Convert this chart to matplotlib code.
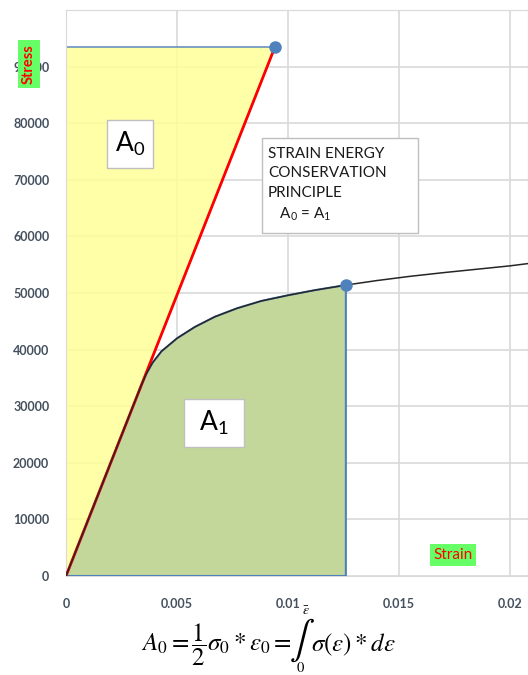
"""Strain energy conservation sketch: stress-strain curve with A0 / A1 areas."""

import matplotlib.pyplot as plt
import numpy as np
from matplotlib.patches import Rectangle

plt.rcParams["mathtext.fontset"] = "stix"
plt.rcParams["font.family"] = ["Lato", "DejaVu Sans"]

# stress-strain curve
strain = [0, 0.0034, 0.0036, 0.0039, 0.0043, 0.0050, 0.0058, 0.0067, 0.0077,
          0.0088, 0.0100, 0.0112, 0.0126, 0.0140, 0.0155, 0.0170, 0.0185,
          0.0200, 0.0208]
stress = [0, 33800, 35600, 37700, 39700, 42000, 44000, 45800, 47300,
          48600, 49600, 50500, 51400, 52200, 52950, 53600, 54200,
          54800, 55200]

# equivalent linear point and the true-strain end point
eps0, sig0 = 0.00941, 93500
eps_bar, sig_bar = 0.0126, 51400

xticks = [0, 0.005, 0.01, 0.015, 0.02]
xticklabels = ["0", "0.005", "0.01", "0.015", "0.02"]
yticks = list(range(0, 90001, 10000))

tick_color = "#44505e"
blue = "#4f81bd"
W, H = 528, 675


def px(x, y):
    # pixel position from the top-left corner -> figure fraction
    return x / W, 1 - y / H


def box(fig, x0, y0, x1, y1):
    # white label box given in pixels
    fig.patches.append(Rectangle(px(x0, y1), (x1 - x0) / W, (y1 - y0) / H,
                                 transform=fig.transFigure, fc="white",
                                 ec="#bfbfbf", lw=1, zorder=3))


if __name__ == "__main__":
    fig = plt.figure(figsize=(W / 100, H / 100), dpi=100)
    ax = fig.add_axes([66 / W, 1 - 576 / H, 462 / W, 566 / H])
    ax.set_xlim(0, 0.0208)
    ax.set_ylim(0, 100000)

    ax.grid(True, color="#d9d9d9", lw=1.2, zorder=0)
    ax.set_axisbelow(True)
    for s in ax.spines.values():
        s.set_color("#d9d9d9")

    # A0 triangle
    ax.fill([0, 0, eps0], [0, sig0, sig0], facecolor="#ffff99", alpha=0.85,
            edgecolor=blue, lw=1.2, zorder=2)
    ax.plot([0, eps0], [0, sig0], color="red", lw=2, zorder=4)
    ax.plot([eps0], [sig0], "o", color=blue, ms=8, zorder=6)

    # A1 area under the curve
    x = np.array(strain)
    y = np.array(stress)
    m = x <= eps_bar
    ax.fill(np.r_[x[m], eps_bar], np.r_[y[m], 0], facecolor="#c4d79b",
            edgecolor=blue, lw=1.5, zorder=3)
    ax.plot(x, y, color="#262626", lw=1.1, zorder=5)
    ax.plot([eps_bar], [sig_bar], "o", color=blue, ms=8, zorder=6)

    ax.set_xticks(xticks)
    ax.set_xticklabels(xticklabels)
    ax.set_yticks(yticks)
    ax.tick_params(length=0, labelsize=9, labelcolor=tick_color)
    ax.tick_params(axis="x", pad=16)
    ax.tick_params(axis="y", pad=12)
    for lab in ax.get_xticklabels() + ax.get_yticklabels():
        lab.set_fontweight("bold")

    # axis labels as green tags
    fig.text(*px(29, 64), "Stress", rotation=90, color="red", fontsize=10.5,
             fontweight="bold", ha="center", va="center", zorder=4,
             bbox=dict(boxstyle="square,pad=0.3", fc="#66ff66", ec="none"))
    fig.text(*px(453, 555), "Strain", color="red", fontsize=11,
             ha="center", va="center",
             bbox=dict(boxstyle="square,pad=0.25", fc="#66ff66", ec="none"))

    box(fig, 107, 120, 153, 168)
    fig.text(*px(130, 144), r"A$\mathregular{_0}$", fontsize=19,
             ha="center", va="center", zorder=4)
    box(fig, 184, 399, 244, 447)
    fig.text(*px(214, 423), r"A$\mathregular{_1}$", fontsize=19,
             ha="center", va="center", zorder=4)

    box(fig, 262, 138, 418, 233)
    fig.text(*px(268, 185),
             "STRAIN ENERGY\nCONSERVATION\nPRINCIPLE\n" + r"   A$\mathregular{_0}$ = A$\mathregular{_1}$",
             fontsize=11, ha="left", va="center", linespacing=1.5,
             color="#1a1a1a", zorder=4)

    # formula below the chart, integral drawn with its limits over and under
    fig.text(*px(292, 651), r"$A_0=\dfrac{1}{2}\sigma_0*\varepsilon_0=$",
             fontsize=18, ha="right", va="baseline")
    fig.text(*px(302, 640), r"$\int$", fontsize=27, ha="center", va="center")
    fig.text(*px(306, 611), r"$\bar{\varepsilon}$", fontsize=10,
             ha="center", va="center")
    fig.text(*px(300, 668), r"$0$", fontsize=10.5, ha="center", va="center")
    fig.text(*px(311, 651), r"$\sigma(\varepsilon)*d\varepsilon$",
             fontsize=18, ha="left", va="baseline")

    fig.savefig("out.png", dpi=100)
